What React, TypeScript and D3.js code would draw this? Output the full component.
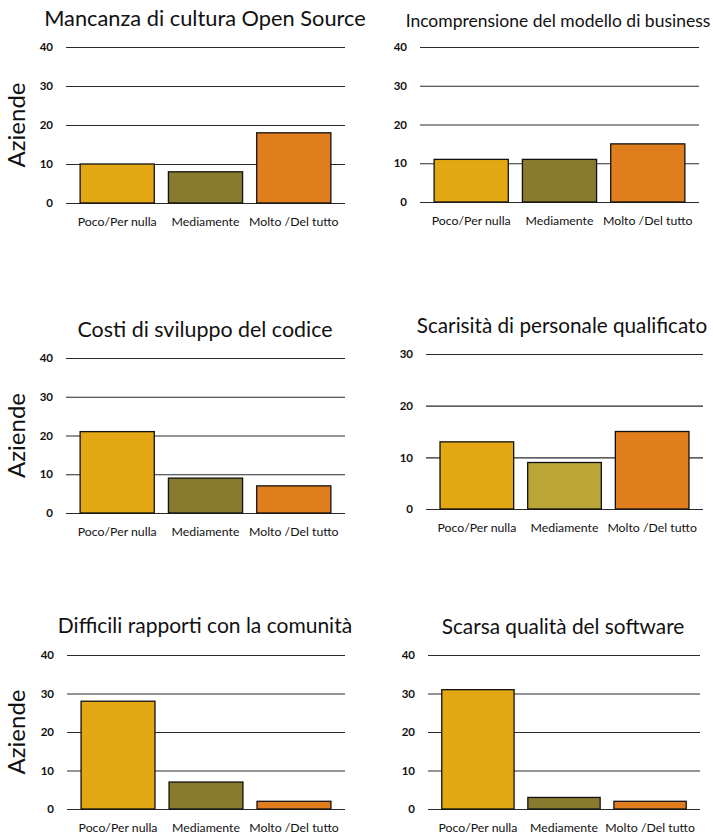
import React, { useEffect, useRef } from 'react';
import * as d3 from 'd3';

// categories on the x axis (same for all panels)
const categories = ['Poco/Per nulla', 'Mediamente', 'Molto /Del tutto'];

const titles = [
    'Mancanza di cultura Open Source',
    'Incomprensione del modello di business',
    'Costi di sviluppo del codice',
    'Scarisità di personale qualificato',
    'Difficili rapporti con la comunità',
    'Scarsa qualità del software',
];

// number of companies per answer
const mancanzaCultura = [10, 8, 18];
const incomprensioneModello = [11, 11, 15];
const costiSviluppo = [21, 9, 7];
const scarsitaPersonale = [13, 9, 15];
const rapportiComunita = [28, 7, 2];
const qualitaSoftware = [31, 3, 2];

const ticks40 = [0, 10, 20, 30, 40];
const ticks30 = [0, 10, 20, 30];

const yLabel = 'Aziende';

const barColors = ['#E3A714', '#8A7A2E', '#E07E1E'];
const barColorsLight = ['#E3A714', '#BBA535', '#E07E1E'];

interface Panel {
    title: string;
    values: number[];
    ticks: number[];
    colors: string[];
    x0: number; x1: number; top: number; bottom: number;
    titleX: number; titleY: number; titleSize: number;
    showYLabel: boolean;
}

const panels: Panel[] = [
    { title: titles[0], values: mancanzaCultura, ticks: ticks40, colors: barColors,
      x0: 66, x1: 345, top: 47, bottom: 203, titleX: 205, titleY: 26, titleSize: 21.8, showYLabel: true },
    { title: titles[1], values: incomprensioneModello, ticks: ticks40, colors: barColors,
      x0: 420, x1: 699, top: 47, bottom: 202, titleX: 558, titleY: 27, titleSize: 17.5, showYLabel: false },
    { title: titles[2], values: costiSviluppo, ticks: ticks40, colors: barColors,
      x0: 66, x1: 345, top: 358, bottom: 513, titleX: 205, titleY: 337, titleSize: 21.4, showYLabel: true },
    { title: titles[3], values: scarsitaPersonale, ticks: ticks30, colors: barColorsLight,
      x0: 426, x1: 703, top: 354, bottom: 509, titleX: 562, titleY: 333, titleSize: 20.7, showYLabel: false },
    { title: titles[4], values: rapportiComunita, ticks: ticks40, colors: barColors,
      x0: 67, x1: 345, top: 655, bottom: 809, titleX: 205, titleY: 633, titleSize: 21, showYLabel: true },
    { title: titles[5], values: qualitaSoftware, ticks: ticks40, colors: barColors,
      x0: 428, x1: 700, top: 655, bottom: 809, titleX: 563, titleY: 634, titleSize: 20.8, showYLabel: false },
];

const FONT = 'Lato, "Open Sans", sans-serif';

const App: React.FC = () => {
    const svgRef = useRef<SVGSVGElement>(null);

    useEffect(() => {
        if (!svgRef.current) return;
        const svg = d3.select(svgRef.current);
        svg.selectAll('*').remove();

        panels.forEach(p => {
            const g = svg.append('g');

            const x = d3.scaleBand<string>()
                .domain(categories)
                .range([p.x0, p.x1])
                .paddingInner(0.16)
                .paddingOuter(0.16);

            const y = d3.scaleLinear()
                .domain([0, d3.max(p.ticks) ?? 40])
                .range([p.bottom, p.top]);

            // gridlines + tick labels
            const yAxis = g.append('g')
                .attr('transform', `translate(${p.x0},0)`)
                .call(d3.axisLeft(y)
                    .tickValues(p.ticks)
                    .tickSize(-(p.x1 - p.x0))
                    .tickPadding(13)
                    .tickFormat(d3.format('d')));
            yAxis.select('.domain').remove();
            yAxis.selectAll('line').attr('stroke', '#2a2a2a').attr('stroke-width', 1.1);
            yAxis.selectAll('text')
                .attr('fill', '#111')
                .style('font-family', FONT)
                .style('font-size', '11.5px')
                .style('font-weight', '700');

            // bars
            g.selectAll('rect.bar')
                .data(p.values)
                .join('rect')
                .attr('class', 'bar')
                .attr('x', (_, i) => x(categories[i]) ?? 0)
                .attr('width', x.bandwidth())
                .attr('y', d => y(d))
                .attr('height', d => y(0) - y(d))
                .attr('fill', (_, i) => p.colors[i])
                .attr('stroke', '#111')
                .attr('stroke-width', 1.3);

            // category labels
            const xAxis = g.append('g')
                .attr('transform', `translate(0,${p.bottom})`)
                .call(d3.axisBottom(x).tickSize(0).tickPadding(14));
            xAxis.select('.domain').remove();
            xAxis.selectAll('text')
                .attr('fill', '#111')
                .style('font-family', FONT)
                .style('font-size', '12.3px');

            // title
            g.append('text')
                .attr('x', p.titleX)
                .attr('y', p.titleY)
                .attr('text-anchor', 'middle')
                .attr('fill', '#111')
                .style('font-family', FONT)
                .style('font-size', `${p.titleSize}px`)
                .text(p.title);

            if (p.showYLabel) {
                g.append('text')
                    .attr('transform', `translate(25,${(p.top + p.bottom) / 2}) rotate(-90)`)
                    .attr('text-anchor', 'middle')
                    .attr('fill', '#111')
                    .style('font-family', FONT)
                    .style('font-size', '24px')
                    .text(yLabel);
            }
        });
    }, []);

    return (
        <svg ref={svgRef} width={713} height={836}
            style={{ position: 'absolute', left: 0, top: 0, background: '#fff' }}></svg>
    );
};

export default App;
